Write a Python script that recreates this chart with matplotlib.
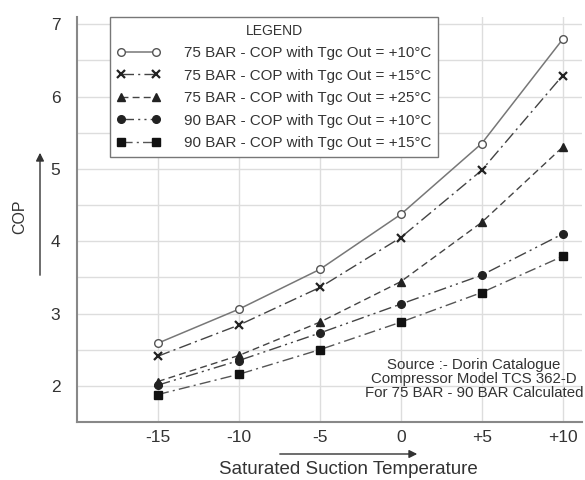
import matplotlib.pyplot as plt

plt.rcParams['font.family'] = ['Liberation Sans', 'DejaVu Sans']

temps = [-15, -10, -5, 0, 5, 10]
tick_labels = ['-15', '-10', '-5', '0', '+5', '+10']

cop_75_10 = [2.59, 3.06, 3.61, 4.37, 5.35, 6.79]
cop_75_15 = [2.41, 2.84, 3.36, 4.05, 4.98, 6.29]
cop_75_25 = [2.06, 2.42, 2.88, 3.44, 4.26, 5.30]
cop_90_10 = [2.01, 2.35, 2.73, 3.13, 3.53, 4.10]
cop_90_15 = [1.88, 2.16, 2.50, 2.88, 3.29, 3.79]

labels = [
    '75 BAR - COP with Tgc Out = +10°C',
    '75 BAR - COP with Tgc Out = +15°C',
    '75 BAR - COP with Tgc Out = +25°C',
    '90 BAR - COP with Tgc Out = +10°C',
    '90 BAR - COP with Tgc Out = +15°C',
]

txt = '#333333'
fig = plt.figure(figsize=(5.85, 4.8), dpi=100)
ax = fig.add_axes([77/585, 58/480, (582-77)/585, (422-17)/480])

ax.plot(temps, cop_75_10, color='#777777', lw=1.1, ls='-', marker='o', ms=5.5,
        mfc='white', mec='#555555', mew=1.0, label=labels[0])
ax.plot(temps, cop_75_15, color='#444444', lw=1.0, ls=(0, (9, 3, 1.5, 3)), marker='x', ms=5.5,
        mec='#222222', mew=1.6, label=labels[1])
ax.plot(temps, cop_75_25, color='#444444', lw=1.0, ls=(0, (5, 3)), marker='^', ms=5.5,
        mfc='#222222', mec='#222222', label=labels[2])
ax.plot(temps, cop_90_10, color='#444444', lw=1.0, ls=(0, (9, 3, 1.5, 3, 1.5, 3)), marker='o', ms=5.5,
        mfc='#222222', mec='#222222', label=labels[3])
ax.plot(temps, cop_90_15, color='#555555', lw=1.0, ls=(0, (8, 3, 1.5, 3)), marker='s', ms=5.5,
        mfc='#111111', mec='#111111', label=labels[4])

ax.set_xlim(-20, 11.2)
ax.set_ylim(1.5, 7.1)
ax.set_xticks(temps)
ax.set_xticklabels(tick_labels)
ax.set_yticks([2, 3, 4, 5, 6, 7])
ax.set_yticks([2.5, 3.5, 4.5, 5.5, 6.5], minor=True)
ax.tick_params(axis='both', which='both', length=0, labelsize=12.5, colors=txt)
ax.tick_params(axis='x', pad=6)
ax.tick_params(axis='y', pad=12)
ax.grid(True, which='both', color='#dddddd', lw=1.0)
ax.set_axisbelow(True)
for s in ['top', 'right']:
    ax.spines[s].set_visible(False)
for s in ['left', 'bottom']:
    ax.spines[s].set_color('#888888')
    ax.spines[s].set_linewidth(1.5)

leg = ax.legend(loc='upper left', bbox_to_anchor=(110/585, 1 - 17/480),
                bbox_transform=fig.transFigure, borderaxespad=0, numpoints=2,
                title='LEGEND', fontsize=10.9, title_fontsize=10, handlelength=2.9,
                handletextpad=1.55, fancybox=False, framealpha=1, edgecolor='#777777',
                labelspacing=0.56, borderpad=0.45)
for t in leg.get_texts():
    t.set_color(txt)
leg.get_title().set_color(txt)
leg.get_frame().set_linewidth(1.0)

ax.text(474/585, 1 - 379/480,
        'Source :- Dorin Catalogue\nCompressor Model TCS 362-D\nFor 75 BAR - 90 BAR Calculated',
        transform=fig.transFigure, ha='center', va='center', fontsize=10.8,
        color=txt, linespacing=1.0)

fig.text(348/585, 1 - 470/480, 'Saturated Suction Temperature', ha='center', va='center',
         fontsize=13.5, color=txt)
fig.text(20/585, 1 - 217/480, 'COP', ha='center', va='center', rotation=90,
         fontsize=11.5, color=txt)

fig.add_artist(plt.Annotation('', xy=(420/585, 1 - 454/480), xytext=(277/585, 1 - 454/480),
                              xycoords='figure fraction', textcoords='figure fraction',
                              arrowprops=dict(arrowstyle='-|>', color='#333333', lw=1.0,
                                              mutation_scale=12)))
fig.add_artist(plt.Annotation('', xy=(40/585, 1 - 150/480), xytext=(40/585, 1 - 278/480),
                              xycoords='figure fraction', textcoords='figure fraction',
                              arrowprops=dict(arrowstyle='-|>', color='#333333', lw=1.0,
                                              mutation_scale=12)))

fig.savefig('out.png', dpi=100)
